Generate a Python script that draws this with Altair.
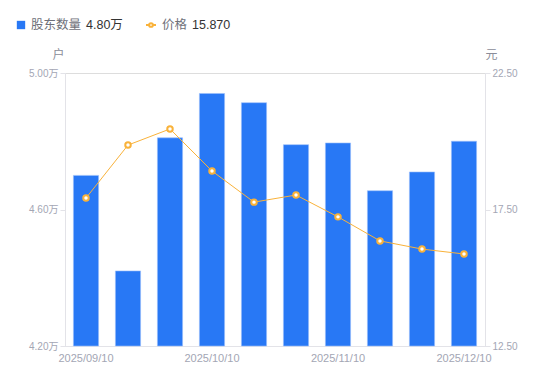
import altair as alt
import pandas as pd

dates = ["2025/09/10", "2025/09/19", "2025/09/30", "2025/10/10", "2025/10/20",
         "2025/10/31", "2025/11/10", "2025/11/20", "2025/11/28", "2025/12/10"]
holders = [4.70, 4.42, 4.81, 4.94, 4.913, 4.79, 4.795, 4.655, 4.71, 4.80]  # 万户
prices = [17.92, 19.86, 20.45, 18.91, 17.77, 18.03, 17.23, 16.35, 16.05, 15.87]
x_label_values = ["2025/09/10", "2025/10/10", "2025/11/10", "2025/12/10"]
left_ticks = [4.20, 4.60, 5.00]
right_ticks = [12.50, 17.50, 22.50]

BLUE = "#2878F5"
ORANGE = "#F9B23A"
FONT = "Liberation Sans, Noto Sans CJK SC"
LABEL = "#A3A6B4"
AXISLINE = "#E3E3E8"

df = pd.DataFrame({"date": dates, "holders": holders, "price": prices})

x = alt.X("date:N", sort=dates,
          scale=alt.Scale(paddingInner=0.4, paddingOuter=0.2),
          axis=alt.Axis(title=None, values=x_label_values, ticks=False, labelAngle=0,
                        labelColor=LABEL, labelFontSize=11, labelPadding=6,
                        domainColor=AXISLINE, labelFont=FONT))

bars = alt.Chart(df).mark_bar(color=BLUE, stroke="#9cc0fa", strokeWidth=0.6).encode(
    x=x,
    y=alt.Y("holders:Q", scale=alt.Scale(domain=[4.2, 5.0], nice=False, zero=False, clamp=True),
            axis=alt.Axis(values=left_ticks, labelExpr="format(datum.value,'.2f')+'万'",
                          title="户", titleAngle=0, titleX=-7, titleY=-12,
                          titleAlign="center", titleColor="#8A8D99", titleFontWeight="normal",
                          titleFontSize=12, titleFont=FONT,
                          labelColor=LABEL, labelFontSize=10, labelFont=FONT,
                          tickColor=AXISLINE, tickSize=5, labelPadding=2,
                          domainColor=AXISLINE, grid=False)),
    y2=alt.datum(4.2),
)

line = alt.Chart(df).mark_line(color=ORANGE, strokeWidth=1).encode(
    x=alt.X("date:N", sort=dates),
    y=alt.Y("price:Q", scale=alt.Scale(domain=[12.5, 22.5], nice=False, zero=False),
            axis=alt.Axis(values=right_ticks, format=".2f", orient="right",
                          title="元", titleAngle=0, titleX=6, titleY=-12,
                          titleAlign="center", titleColor="#8A8D99", titleFontWeight="normal",
                          titleFontSize=12, titleFont=FONT,
                          labelColor=LABEL, labelFontSize=10, labelFont=FONT,
                          tickColor=AXISLINE, tickSize=5, labelPadding=2,
                          domainColor=AXISLINE, grid=False))
)
pts = alt.Chart(df).mark_point(shape="circle", filled=True, fill="white", stroke=ORANGE,
                               strokeWidth=2, size=30, opacity=1).encode(
    x=alt.X("date:N", sort=dates),
    y=alt.Y("price:Q"),
)

# legend (custom)
leg_df = pd.DataFrame({"h": [f"{holders[-1]:.2f}万"], "p": [f"{prices[-1]:.3f}"]})
lx0 = -65
ly = -48
leg_sq = alt.Chart(leg_df).mark_square(color=BLUE, size=70, opacity=1).encode(
    x=alt.value(lx0 + 21), y=alt.value(ly))
leg_t1 = alt.Chart(leg_df).mark_text(align="left", baseline="middle", font=FONT, fontSize=12.5,
                                     color="#6E7079", text="股东数量").encode(
    x=alt.value(lx0 + 31), y=alt.value(ly))
leg_v1 = alt.Chart(leg_df).mark_text(align="left", baseline="middle", font=FONT, fontSize=12.5,
                                     color="#333333").encode(
    x=alt.value(lx0 + 86), y=alt.value(ly), text="h:N")
leg_ln = alt.Chart(leg_df).mark_rule(color=ORANGE, strokeWidth=2).encode(
    x=alt.value(lx0 + 146), x2=alt.value(lx0 + 156), y=alt.value(ly))
leg_pt = alt.Chart(leg_df).mark_point(shape="circle", filled=True, fill="white", stroke=ORANGE,
                                      strokeWidth=2, size=14, opacity=1).encode(
    x=alt.value(lx0 + 151), y=alt.value(ly))
leg_t2 = alt.Chart(leg_df).mark_text(align="left", baseline="middle", font=FONT, fontSize=12.5,
                                     color="#6E7079", text="价格").encode(
    x=alt.value(lx0 + 162), y=alt.value(ly))
leg_v2 = alt.Chart(leg_df).mark_text(align="left", baseline="middle", font=FONT, fontSize=12.5,
                                     color="#333333").encode(
    x=alt.value(lx0 + 192), y=alt.value(ly), text="p:N")

right = alt.layer(line, pts)
chart = alt.layer(bars, right, leg_sq, leg_t1, leg_v1, leg_ln, leg_pt, leg_t2, leg_v2).resolve_scale(
    y="independent"
).properties(
    width=420, height=273,
    autosize=alt.AutoSizeParams(type="none"),
    padding={"left": 57, "top": 65, "right": 57, "bottom": 27},
).configure_view(stroke=None).configure(font=FONT, background="white")

chart.save("out.html", embed_options={"renderer": "svg", "actions": False})
